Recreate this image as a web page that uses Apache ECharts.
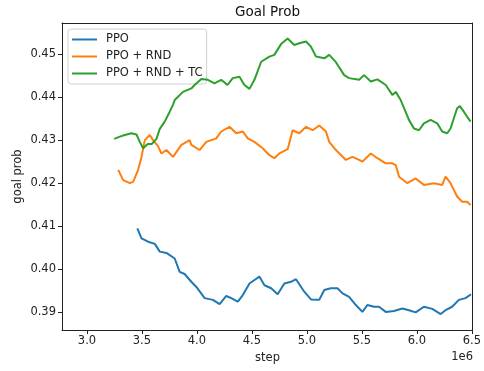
<!DOCTYPE html>
<html>
<head>
<meta charset="utf-8">
<script src="https://cdn.jsdelivr.net/npm/echarts@6/dist/echarts.min.js"></script>
<style>html,body{margin:0;padding:0;background:#fff}#c{width:484px;height:371px}</style>
</head>
<body>
<div id="c"></div>
<script>
// step values in units of 1e6
var ppoSteps = [3.458,3.496,3.556,3.617,3.662,3.723,3.798,3.843,3.888,3.949,3.995,4.070,4.145,4.206,4.267,4.312,4.372,4.417,4.478,4.523,4.568,4.614,4.675,4.734,4.795,4.856,4.901,4.976,5.037,5.112,5.158,5.218,5.278,5.324,5.384,5.445,5.505,5.550,5.611,5.656,5.717,5.792,5.868,5.928,5.989,6.064,6.140,6.216,6.261,6.321,6.382,6.442,6.493];
var ppoVals = [0.4095,0.4072,0.4064,0.4059,0.4041,0.4038,0.4025,0.3994,0.3989,0.3971,0.3959,0.3933,0.3929,0.3919,0.3938,0.3933,0.3925,0.3940,0.3967,0.3975,0.3983,0.3963,0.3956,0.3942,0.3967,0.3971,0.3977,0.3948,0.3930,0.3929,0.3952,0.3956,0.3956,0.3944,0.3936,0.3917,0.3901,0.3917,0.3913,0.3913,0.3901,0.3903,0.3909,0.3905,0.3900,0.3913,0.3908,0.3896,0.3905,0.3913,0.3929,0.3933,0.3942];

var rndSteps = [3.284,3.329,3.390,3.420,3.465,3.496,3.526,3.571,3.601,3.646,3.677,3.723,3.782,3.859,3.934,3.949,4.024,4.085,4.176,4.221,4.296,4.357,4.417,4.462,4.523,4.598,4.659,4.704,4.750,4.825,4.870,4.931,4.992,5.052,5.112,5.173,5.203,5.264,5.354,5.414,5.475,5.505,5.581,5.641,5.717,5.777,5.808,5.838,5.913,5.989,6.064,6.155,6.230,6.261,6.306,6.366,6.412,6.457,6.488];
var rndVals = [0.4231,0.4207,0.4200,0.4203,0.4231,0.4261,0.4300,0.4312,0.4300,0.4286,0.4269,0.4277,0.4261,0.4289,0.4300,0.4289,0.4277,0.4296,0.4304,0.4320,0.4331,0.4316,0.4320,0.4304,0.4296,0.4281,0.4265,0.4258,0.4269,0.4279,0.4323,0.4316,0.4331,0.4323,0.4334,0.4320,0.4296,0.4277,0.4254,0.4261,0.4254,0.4250,0.4269,0.4258,0.4246,0.4246,0.4242,0.4215,0.4200,0.4211,0.4196,0.4200,0.4196,0.4215,0.4200,0.4169,0.4157,0.4157,0.4149];

var tcSteps = [3.2475,3.299,3.3445,3.405,3.4506,3.4805,3.5104,3.553,3.589,3.632,3.662,3.707,3.7525,3.782,3.798,3.873,3.949,3.979,4.040,4.100,4.160,4.221,4.278,4.326,4.387,4.432,4.478,4.523,4.584,4.659,4.704,4.765,4.825,4.886,4.931,4.992,5.037,5.083,5.158,5.203,5.264,5.339,5.384,5.475,5.520,5.581,5.641,5.717,5.777,5.808,5.853,5.928,5.974,6.019,6.064,6.125,6.185,6.230,6.276,6.306,6.366,6.391,6.427,6.488];
var tcVals = [0.4303,0.4308,0.4312,0.4316,0.4313,0.4296,0.4281,0.4291,0.4291,0.4303,0.4326,0.4343,0.4366,0.4382,0.4393,0.4412,0.4420,0.4428,0.4442,0.4440,0.4432,0.4440,0.4428,0.4444,0.4447,0.4428,0.4419,0.4440,0.4482,0.4494,0.4498,0.4523,0.4536,0.4521,0.4525,0.4529,0.4517,0.4494,0.4490,0.4498,0.4481,0.4451,0.4444,0.4440,0.4451,0.4436,0.4441,0.4428,0.4405,0.4412,0.4393,0.4347,0.4327,0.4323,0.4339,0.4347,0.4339,0.4320,0.4316,0.4327,0.4374,0.4379,0.4366,0.4343];

var seriesNames = ['PPO', 'PPO + RND', 'PPO + RND + TC'];
var xTicks = [3.0, 3.5, 4.0, 4.5, 5.0, 5.5, 6.0, 6.5];
var yTicks = [0.39, 0.40, 0.41, 0.42, 0.43, 0.44, 0.45];

function zip(a, b) { return a.map(function (v, i) { return [v, b[i]]; }); }

var colors = ['#1f77b4', '#ff7f0e', '#2ca02c'];
var FONT = 'DejaVu Sans';
var XMIN = 2.773, XMAX = 6.5, YMIN = 0.3859, YMAX = 0.4572;
var spine = { show: true, lineStyle: { color: '#222', width: 1 } };
var chart = echarts.init(document.getElementById('c'), null, { renderer: 'canvas' });
chart.setOption({
  animation: false,
  color: colors,
  textStyle: { fontFamily: FONT },
  grid: { left: 62, top: 23, width: 411, height: 307, containLabel: false },
  xAxis: [{
    type: 'value', min: XMIN, max: XMAX, position: 'bottom',
    axisLine: spine,
    splitLine: { show: false },
    axisTick: { show: true, length: 4, inside: false, lineStyle: { color: '#222', width: 1 }, customValues: xTicks },
    axisLabel: { show: true, margin: 5, fontSize: 11.5, color: '#222', fontFamily: FONT, customValues: xTicks,
      formatter: function (v) { return v.toFixed(1); } }
  }, {
    type: 'value', min: XMIN, max: XMAX, position: 'top',
    axisLine: spine, axisTick: { show: false }, axisLabel: { show: false }, splitLine: { show: false }
  }],
  yAxis: [{
    type: 'value', min: YMIN, max: YMAX, position: 'left',
    axisLine: spine,
    splitLine: { show: false },
    axisTick: { show: true, length: 4, inside: false, lineStyle: { color: '#222', width: 1 }, customValues: yTicks },
    axisLabel: { show: true, margin: 6, fontSize: 11.5, color: '#222', fontFamily: FONT, customValues: yTicks,
      formatter: function (v) { return v.toFixed(2); } }
  }, {
    type: 'value', min: YMIN, max: YMAX, position: 'right',
    axisLine: spine, axisTick: { show: false }, axisLabel: { show: false }, splitLine: { show: false }
  }],
  legend: {
    orient: 'vertical', left: 68, top: 29,
    data: seriesNames.map(function (n) { return { name: n, icon: 'rect' }; }),
    itemWidth: 25, itemHeight: 2, itemGap: 4,
    padding: [4, 4, 4, 4],
    backgroundColor: 'rgba(255,255,255,0.8)', borderColor: '#d0d0d0', borderWidth: 1, borderRadius: 3,
    textStyle: { fontSize: 11.5, color: '#222', fontFamily: FONT, lineHeight: 13, padding: [0, 0, 0, 4] }
  },
  series: [
    { name: seriesNames[0], type: 'line', data: zip(ppoSteps, ppoVals), showSymbol: false, symbol: 'none', lineStyle: { width: 2 }, z: 2 },
    { name: seriesNames[1], type: 'line', data: zip(rndSteps, rndVals), showSymbol: false, symbol: 'none', lineStyle: { width: 2 }, z: 3 },
    { name: seriesNames[2], type: 'line', data: zip(tcSteps, tcVals), showSymbol: false, symbol: 'none', lineStyle: { width: 2 }, z: 4 }
  ],
  graphic: [
    { type: 'text', style: { text: 'Goal Prob', x: 267.5, y: 12.5, textAlign: 'center', textVerticalAlign: 'middle', fontSize: 13.5, fill: '#111', fontFamily: FONT } },
    { type: 'text', style: { text: 'step', x: 267.5, y: 358.5, textAlign: 'center', textVerticalAlign: 'middle', fontSize: 11.5, fill: '#222', fontFamily: FONT } },
    { type: 'text', style: { text: '1e6', x: 473, y: 357.5, textAlign: 'right', textVerticalAlign: 'middle', fontSize: 11.5, fill: '#222', fontFamily: FONT } },
    { type: 'text', x: 18, y: 176.5, rotation: Math.PI / 2, style: { text: 'goal prob', x: 0, y: 0, textAlign: 'center', textVerticalAlign: 'middle', fontSize: 11.5, fill: '#222', fontFamily: FONT } }
  ]
});
</script>
</body>
</html>
